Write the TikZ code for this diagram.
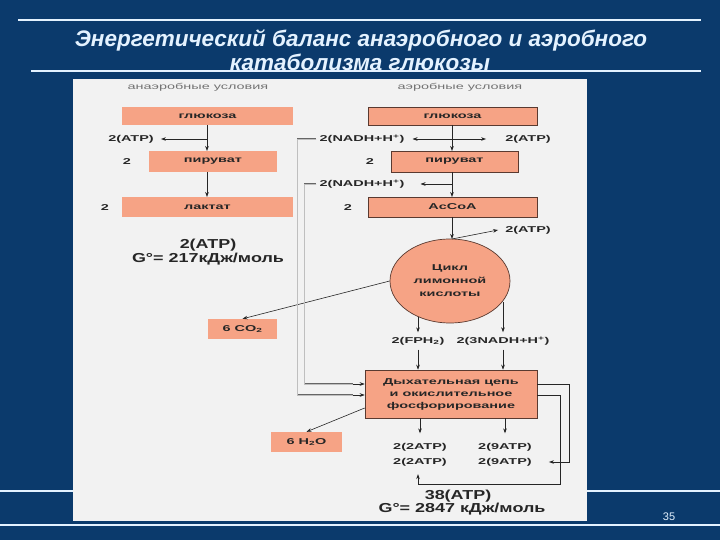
\documentclass[tikz,border=0pt]{standalone}
\usepackage{fontspec}
\setmainfont{Liberation Sans}
\newfontfamily\dg[FakeStretch=1.7]{Liberation Sans}
\newfontfamily\dgb[FakeStretch=1.38]{Liberation Sans}
\usetikzlibrary{shapes.geometric,arrows.meta}
\definecolor{slidebg}{HTML}{0B3A6C}
\definecolor{panelbg}{HTML}{F2F2F2}
\definecolor{salmon}{HTML}{F6A385}
\definecolor{titlec}{HTML}{E4F2FF}
\definecolor{edgec}{HTML}{5A3A30}
\begin{document}
\begin{tikzpicture}[x=1pt,y=-1pt,
  box/.style={fill=salmon, inner sep=0pt, text=black!85, font=\dg\bfseries\fontsize{8.5}{9}\selectfont},
  rbox/.style={box, draw=edgec, line width=0.6pt},
  lbl/.style={inner sep=0pt, text=black!85, font=\dg\bfseries\fontsize{8.5}{9}\selectfont},
  cond/.style={inner sep=0pt, text=black!55, font=\dg\fontsize{8.5}{9}\selectfont},
  big/.style={inner sep=0pt, text=black!85, font=\dgb\bfseries\fontsize{13}{12}\selectfont},
  arr/.style={-{Stealth[length=5pt,width=3.6pt]}, line width=0.6pt, draw=black!85},
  gline/.style={draw=black!60, double=black!25, double distance=0.8pt, line width=0.5pt},
  wline/.style={draw=titlec, line width=1.3pt},
  ttl/.style={text=titlec, font=\bfseries\itshape\fontsize{22.5}{24}\selectfont, inner sep=0pt}]
\useasboundingbox (0,0) rectangle (720,540);
\fill[slidebg] (0,0) rectangle (720,540);
% slide lines
\draw[wline] (18,20) -- (701,20);
\draw[wline] (31,71) -- (701,71);
\draw[wline] (0,491) -- (720,491);
\draw[wline] (0,525) -- (720,525);
% title
\node[ttl] (t1) at (361,40) {Энергетический баланс анаэробного и аэробного};
\node[ttl] (t2) at (360,62) {катаболизма глюкозы};
% panel
\fill[panelbg] (73,79) rectangle (587,521);
\node[text=titlec, font=\fontsize{11}{12}\selectfont, inner sep=0pt] (pg) at (669,517) {35};
% headings
\node[cond] (hA) at (198,87) {анаэробные условия};
\node[cond] (hB) at (460,87) {аэробные условия};
% left column
\node[box, minimum width=171pt, minimum height=18pt] (gl1) at (207.5,116) {глюкоза};
\node[box, minimum width=128pt, minimum height=21pt] (pyr1) at (213,161.5) {пируват};
\node[box, minimum width=171pt, minimum height=20pt] (lac1) at (207.5,207) {лактат};
\node[lbl] (atpL) at (131,139) {2(ATP)};
\node[lbl] (twoA) at (127,162) {2};
\node[lbl] (twoB) at (105,208) {2};
\node[big] (bigA1) at (208,245.5) {2(ATP)};
\node[big] (bigA2) at (208,259) {G°= 217кДж/моль};
\draw[arr] (207,125) -- (207,151);
\draw[arr] (207,172) -- (207,197);
\draw[arr] (207,139) -- ([xshift=7pt]atpL.east);
% right column
\node[rbox, minimum width=169pt, minimum height=18pt] (gl2) at (452.5,116) {глюкоза};
\node[rbox, minimum width=127pt, minimum height=21pt] (pyr2) at (454.5,161.5) {пируват};
\node[rbox, minimum width=169pt, minimum height=20pt] (aco) at (452.5,207) {AcCoA};
\node[lbl] (nadh1) at (362,139) {2(NADH+H\textsuperscript{+})};
\node[lbl] (atpR) at (528,139) {2(ATP)};
\node[lbl] (twoC) at (370,162) {2};
\node[lbl] (nadh2) at (362,184) {2(NADH+H\textsuperscript{+})};
\node[lbl] (twoD) at (348,208) {2};
\node[lbl] (atpC) at (528,230) {2(ATP)};
\node[ellipse, fill=salmon, draw=edgec, line width=0.7pt, minimum width=120pt, minimum height=84pt, inner sep=0pt, align=center, text=black!85, font=\dg\bfseries\fontsize{8.5}{13}\selectfont] (cyc) at (450,281) {Цикл\\лимонной\\кислоты};
\node[box, minimum width=69pt, minimum height=20pt] (co2) at (242.5,329) {6 CO\textsubscript{2}};
\node[lbl] (fph) at (418,341) {2(FPH\textsubscript{2})};
\node[lbl] (n3) at (503,341) {2(3NADH+H\textsuperscript{+})};
\node[rbox, minimum width=172pt, minimum height=48pt, align=center, font=\dg\bfseries\fontsize{8.5}{12}\selectfont] (resp) at (451,394) {Дыхательная цепь\\и окислительное\\фосфорирование};
\node[box, minimum width=71pt, minimum height=20pt] (h2o) at (306.5,442) {6 H\textsubscript{2}O};
\node[lbl] (n2a) at (420,447) {2(2ATP)};
\node[lbl] (n2b) at (420,462) {2(2ATP)};
\node[lbl] (n9a) at (505,447) {2(9ATP)};
\node[lbl] (n9b) at (505,462) {2(9ATP)};
\node[big] (bigB1) at (458,496) {38(ATP)};
\node[big] (bigB2) at (462,509.5) {G°= 2847 кДж/моль};
% right arrows
\draw[arr] (452,125) -- (452,151);
\draw[arr] (452,139) -- ([xshift=8pt]nadh1.east);
\draw[arr] (452,139) -- ([xshift=-19pt]atpR.west);
\draw[arr] (452,172) -- (452,197);
\draw[arr] (452,184) -- ([xshift=16pt]nadh2.east);
\draw[arr] (452,217) -- (452,239);
\draw[arr] (452,239) -- ([xshift=-7pt]atpC.west);
\draw[arr] (cyc.west) -- (co2.north);
\draw[arr] (fph.north |- cyc.228) -- ([yshift=4.5pt]fph.north);
\draw[arr] (n3.north |- cyc.338) -- ([yshift=4.5pt]n3.north);
\draw[arr] ([yshift=-4.5pt]fph.south) -- (fph.south |- resp.north);
\draw[arr] ([yshift=-4.5pt]n3.south) -- (n3.south |- resp.north);
\draw[arr] ([yshift=-14pt]resp.west) -- (h2o.north);
\draw[arr] (n2a.north |- resp.south) -- ([yshift=9.5pt]n2a.north);
\draw[arr] (n9a.north |- resp.south) -- ([yshift=9.5pt]n9a.north);
% gray feed lines
\draw[gline] ([xshift=-3pt]nadh1.west) -- ++(-19,0) |- ([xshift=-12pt,yshift=-1pt]resp.west);
\draw[arr] ([xshift=-12pt,yshift=-1pt]resp.west) -- ([yshift=-1pt]resp.west);
\draw[gline] ([xshift=-3pt]nadh2.west) -- ++(-12,0) |- ([xshift=-12pt,yshift=10pt]resp.west);
\draw[arr] ([xshift=-12pt,yshift=10pt]resp.west) -- ([yshift=10pt]resp.west);
% right loops
\draw[arr] ([yshift=10pt]resp.east) -- ++(32,0) |- ([xshift=17pt]n9b.east);
\draw[arr] ([yshift=-1pt]resp.east) -- ++(23,0) |- ([xshift=-2pt,yshift=-18pt]n2b.south) -- ([xshift=-2pt,yshift=-8pt]n2b.south);
\end{tikzpicture}
\end{document}
